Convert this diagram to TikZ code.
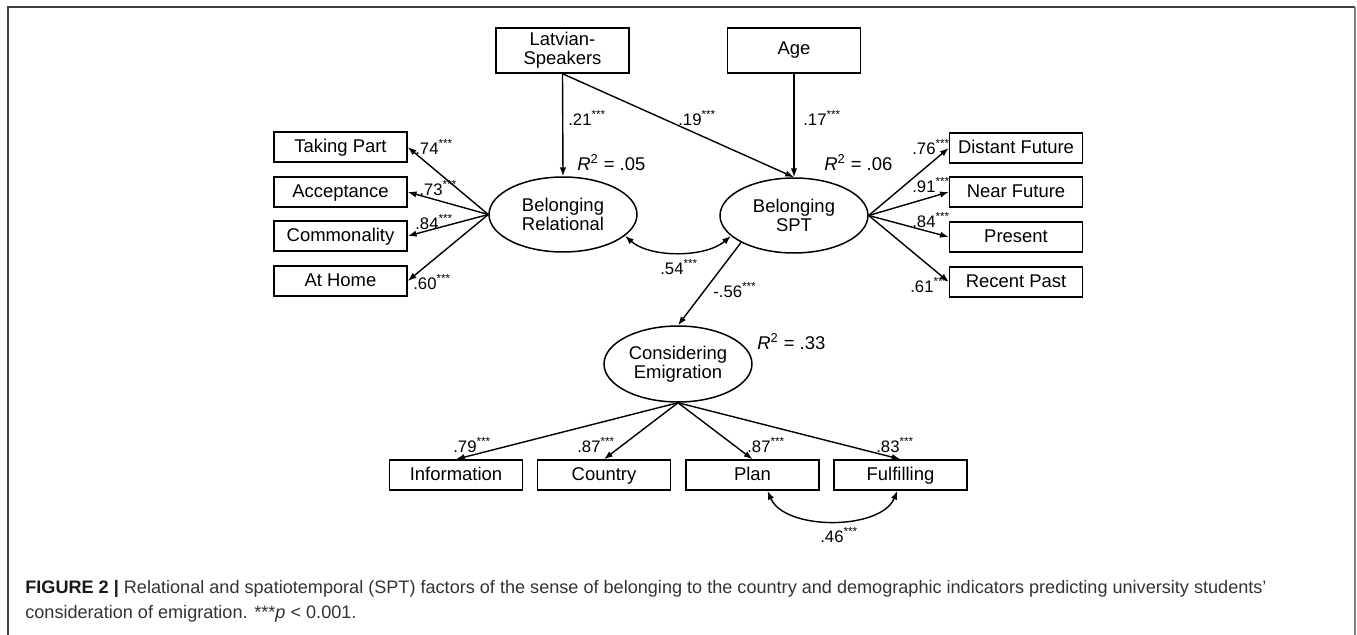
\documentclass[tikz,border=0pt]{standalone}
\usepackage{fontspec}
\setmainfont{Liberation Sans}
\usetikzlibrary{arrows.meta,shapes.geometric,calc}
\newcommand{\sig}[1]{#1\textsuperscript{***}}
\begin{document}
\begin{tikzpicture}[x=0.02cm,y=-0.02cm,
  box/.style={draw,line width=0.85pt,minimum width=2.66cm,minimum height=0.6cm,inner sep=0pt,text height=1.55ex,text depth=0.45ex,font=\fontsize{10.5}{11}\selectfont},
  tallbox/.style={draw,line width=0.85pt,minimum width=2.66cm,minimum height=0.9cm,inner sep=0pt,align=center,font=\fontsize{10.5}{11}\selectfont},
  latent/.style={draw,ellipse,line width=0.85pt,minimum width=2.96cm,minimum height=1.5cm,inner sep=0pt,align=center,font=\fontsize{10.5}{11}\selectfont},
  lab/.style={inner sep=0pt,anchor=west,font=\fontsize{9.5}{11}\selectfont},
  arr/.style={line width=0.8pt,-{Latex[length=5pt,width=3.6pt]}},
  darr/.style={line width=0.8pt,{Latex[length=5pt,width=3.6pt]}-{Latex[length=5pt,width=3.6pt]}},
  frame/.style={line width=1.1pt,draw=black!75},
]
\useasboundingbox (0,0) rectangle (1357,635);
% frame
\coordinate (f1) at (8,7);
\coordinate (f2) at (1355,7);
\coordinate (f3) at (8,635);
\coordinate (f4) at (1355,635);
\draw[frame] (f3) -- (f1) -- (f2);
\draw[frame,draw=black!50] (f2) -- (f4);

% top predictors
\node[tallbox] (lat) at (562.5,50.5) {Latvian-\\Speakers};
\node[tallbox] (age) at (794,50.5) {Age};

% latent variables
\node[latent] (rel) at (563,214.5) {Belonging\\Relational};
\node[latent] (spt) at (794,215.5) {Belonging\\SPT};
\node[latent,minimum height=1.52cm] (ce) at (678,364) {Considering\\Emigration};

% left indicators
\node[box] (tp) at (340.5,147) {Taking Part};
\node[box] (ac) at (340.5,192) {Acceptance};
\node[box] (co) at (340.5,236) {Commonality};
\node[box] (ah) at (340.5,281) {At Home};

% right indicators
\node[box] (df) at (1016,148) {Distant Future};
\node[box] (nf) at (1016,192) {Near Future};
\node[box] (pr) at (1016,237) {Present};
\node[box] (rp) at (1016,282) {Recent Past};

% bottom indicators
\node[box] (inf) at (456,475) {Information};
\node[box] (cou) at (604,475) {Country};
\node[box] (pla) at (752.5,475) {Plan};
\node[box] (ful) at (900.5,475) {Fulfilling};

% structural paths
\draw[arr] (lat.south) -- (rel.north);
\draw[arr] (lat.south) -- (spt.north);
\draw[arr] (age.south) -- (spt.north);
\draw[arr] (spt.-153) -- (ce.north);
\draw[darr] (rel.-19) .. controls (650,258) and (705,258) .. (spt.-162);

% loadings
\foreach \t in {tp,ac,co,ah} \draw[arr] (rel.west) -- (\t.east);
\foreach \t in {df,nf,pr,rp} \draw[arr] (spt.east) -- (\t.west);
\foreach \t in {inf,cou,pla,ful} \draw[arr] (ce.south) -- (\t.north);
\draw[darr] ($(pla.south)+(15,0)$) .. controls ($(pla.south)+(32,40)$) and ($(ful.south)+(-20,40)$) .. ($(ful.south)+(-3,0)$);

% labels
\node[lab] (l21) at (568,118) {\sig{.21}};
\node[lab] (l19) at (678,118) {\sig{.19}};
\node[lab] (l17) at (803,118) {\sig{.17}};
\node[lab,font=\fontsize{10.5}{11}\selectfont] (r05) at (577,163) {\textit{R}\textsuperscript{2} = .05};
\node[lab,font=\fontsize{10.5}{11}\selectfont] (r06) at (824,163) {\textit{R}\textsuperscript{2} = .06};
\node[lab,font=\fontsize{10.5}{11}\selectfont] (r33) at (757,342) {\textit{R}\textsuperscript{2} = .33};
\node[lab] (l74) at (415,147) {\sig{.74}};
\node[lab] (l73) at (419,188) {\sig{.73}};
\node[lab] (l84) at (415,222) {\sig{.84}};
\node[lab] (l60) at (413,282) {\sig{.60}};
\node[lab] (l76) at (912,147) {\sig{.76}};
\node[lab] (l91) at (912,185) {\sig{.91}};
\node[lab] (l84b) at (912,220) {\sig{.84}};
\node[lab] (l61) at (910,285) {\sig{.61}};
\node[lab] (l54) at (660,267) {\sig{.54}};
\node[lab] (l56) at (713,290) {\sig{-.56}};
\node[lab] (l79) at (453,445) {\sig{.79}};
\node[lab] (l87a) at (577,445) {\sig{.87}};
\node[lab] (l87b) at (747,445) {\sig{.87}};
\node[lab] (l83) at (876,445) {\sig{.83}};
\node[lab] (l46) at (820,535) {\sig{.46}};

% caption
\node[anchor=north west,inner sep=0pt,align=left,text=black!80,font=\fontsize{10.3}{14.5}\selectfont] (cap) at (25,580)
  {{\bfseries\color{black!90}FIGURE 2 |} Relational and spatiotemporal (SPT) factors of the sense of belonging to the country and demographic indicators predicting university students'\\
   consideration of emigration. ***\textit{p} < 0.001.};
\end{tikzpicture}
\end{document}
